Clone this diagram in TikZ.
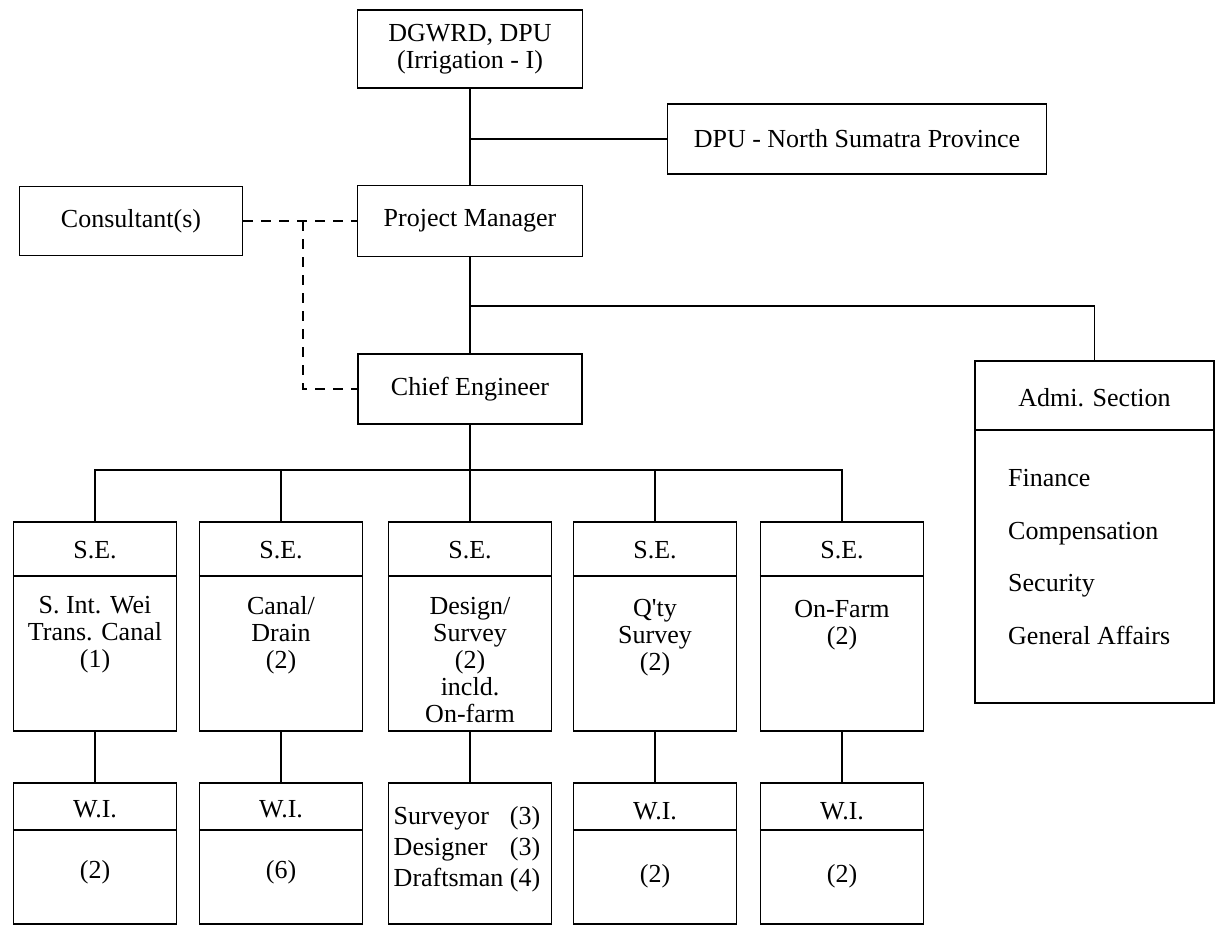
\documentclass[tikz,border=0pt]{standalone}
\usepackage{fontspec}
\setmainfont{Liberation Serif}
\begin{document}
\begin{tikzpicture}[x=1pt,y=-1pt,
  box/.style={draw, line width=1.5pt, inner sep=0pt, font=\fontsize{26}{27}\selectfont, align=center},
  txt/.style={inner sep=0pt, font=\fontsize{26}{27}\selectfont, align=center},
  conn/.style={line width=1.5pt},
  consl/.style={line width=1.4pt, dash pattern=on 10pt off 8pt},
  sebox/.style={draw, line width=1.5pt, minimum width=163pt, minimum height=209pt, inner sep=0pt},
  wibox/.style={draw, line width=1.5pt, minimum width=163pt, minimum height=141pt, inner sep=0pt}
]
\useasboundingbox (0,0) rectangle (1217,929);

% top chain
\node[box, minimum width=225pt, minimum height=78pt] (dg) at (470,49) {DGWRD, DPU\\(Irrigation - I)};
\node[box, minimum width=379pt, minimum height=70pt] (dpu) at (857,139) {DPU - North Sumatra Province};
\node[box, minimum width=225pt, minimum height=71pt] (pm) at (470,221) {Project Manager};
\node[box, minimum width=223pt, minimum height=69pt] (cons) at (131,221) {Consultant(s)};
\node[box, minimum width=224pt, minimum height=70pt] (ce) at (470,389) {Chief Engineer};

\draw[conn] (dg.south) -- (pm.north);
\draw[conn] (dg.south |- dpu.west) -- (dpu.west);
\draw[conn] (pm.south) -- (ce.north);

% consultant dashed links
\coordinate (dk) at (303,0);
\draw[consl] (cons.east) -- (pm.west);
\draw[consl] (cons.east -| dk) -- (dk |- ce.west) -- (ce.west);

% admin section
\node[draw, line width=1.5pt, minimum width=239pt, minimum height=342pt, inner sep=0pt] (adm) at (1094.5,532) {};
\draw[conn] (adm.west |- 0,430) -- (adm.east |- 0,430);
\node[txt] (admh) at (1094.5,398) {Admi. Section};
\node[inner sep=0pt, font=\fontsize{26}{52.7}\selectfont, align=left, anchor=west] (admb) at (1008,557)
  {Finance\\Compensation\\Security\\General Affairs};
\coordinate (admj) at (470,306);
\draw[conn] (admj) -| (adm.north);

% S.E. boxes
\node[sebox] (se1) at (95,626.5) {};
\node[sebox] (se2) at (281,626.5) {};
\node[sebox] (se3) at (470,626.5) {};
\node[sebox] (se4) at (655,626.5) {};
\node[sebox] (se5) at (842,626.5) {};
\foreach \n in {se1,se2,se3,se4,se5}{
  \draw[conn] (\n.west |- 0,576) -- (\n.east |- 0,576);
}
\node[txt] (se1h) at (95,550) {S.E.};
\node[txt] (se2h) at (281,550) {S.E.};
\node[txt] (se3h) at (470,550) {S.E.};
\node[txt] (se4h) at (655,550) {S.E.};
\node[txt] (se5h) at (842,550) {S.E.};
\node[txt, anchor=north] (se1b) at (95,596) {S. Int. Wei\\Trans. Canal\\(1)};
\node[txt, anchor=north] (se2b) at (281,596) {Canal/\\Drain\\(2)};
\node[txt, anchor=north] (se3b) at (470,597) {Design/\\Survey\\(2)\\incld.\\On-farm};
\node[txt, anchor=north] (se4b) at (655,599) {Q\textquotesingle ty\\Survey\\(2)};
\node[txt, anchor=north] (se5b) at (842,600) {On-Farm\\(2)};

% bus
\coordinate (bus) at (470,470);
\draw[conn] (ce.south) -- (bus);
\draw[conn] (se1.north) -- (se1.north |- bus) -- (se5.north |- bus) -- (se5.north);
\draw[conn] (se2.north) -- (se2.north |- bus);
\draw[conn] (se3.north) -- (se3.north |- bus);
\draw[conn] (se4.north) -- (se4.north |- bus);

% W.I. boxes
\node[wibox] (wi1) at (95,853.5) {};
\node[wibox] (wi2) at (281,853.5) {};
\node[wibox] (sv) at (470,853.5) {};
\node[wibox] (wi4) at (655,853.5) {};
\node[wibox] (wi5) at (842,853.5) {};
\foreach \n in {wi1,wi2,wi4,wi5}{
  \draw[conn] (\n.west |- 0,830) -- (\n.east |- 0,830);
}
\node[txt] (wi1h) at (95,809) {W.I.};
\node[txt] (wi2h) at (281,809) {W.I.};
\node[txt] (wi4h) at (655,811) {W.I.};
\node[txt] (wi5h) at (842,811) {W.I.};
\node[txt] (wi1b) at (95,872) {(2)};
\node[txt] (wi2b) at (281,872) {(6)};
\node[txt] (wi4b) at (655,876) {(2)};
\node[txt] (wi5b) at (842,876) {(2)};
\node[inner sep=0pt, font=\fontsize{26}{31}\selectfont] (svb) at (467,849)
  {\begin{tabular}{@{}l@{\ }r@{}}Surveyor & (3)\\ Designer & (3)\\ Draftsman & (4)\end{tabular}};

\foreach \a/\b in {se1/wi1, se2/wi2, se3/sv, se4/wi4, se5/wi5}{
  \draw[conn] (\a.south) -- (\b.north);
}
\end{tikzpicture}
\end{document}
